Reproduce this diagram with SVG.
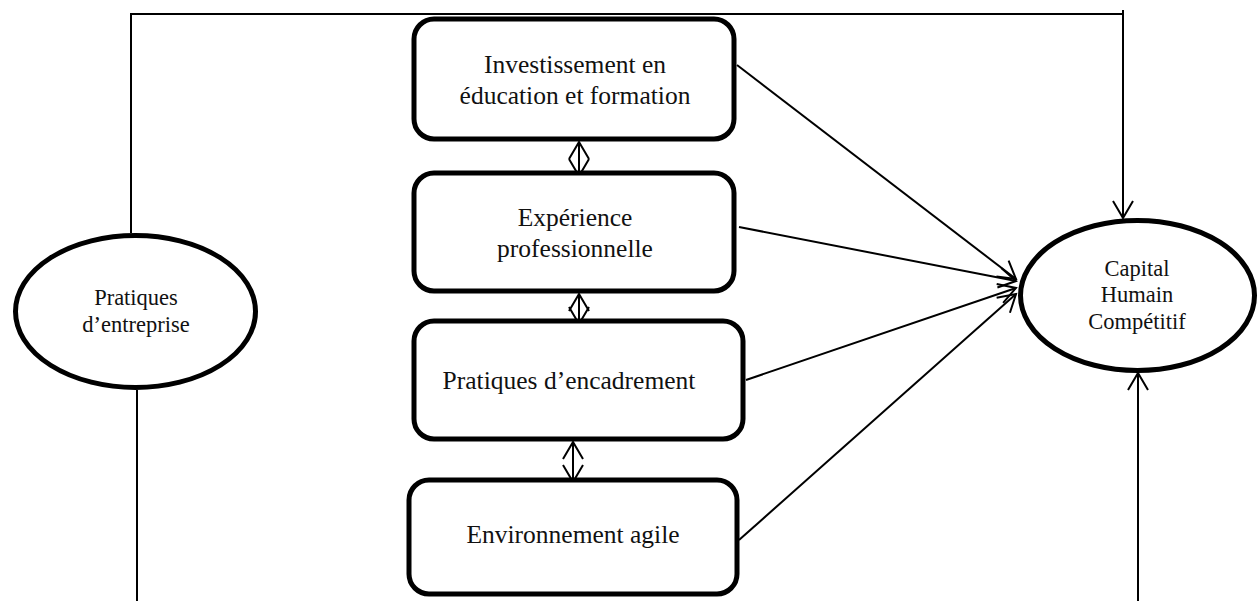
<svg xmlns="http://www.w3.org/2000/svg" width="1258" height="601" viewBox="0 0 1258 601">
<style>
.box{fill:#fff;stroke:#000;stroke-width:5}
.ell{fill:#fff;stroke:#000;stroke-width:5}
.t{font-family:"Liberation Serif","Times New Roman",serif;font-size:25.5px;fill:#111;text-anchor:middle}
.te{font-family:"Liberation Serif","Times New Roman",serif;font-size:22.5px;fill:#111;text-anchor:middle}
.c{fill:none;stroke:#000;stroke-width:2}
</style>
<defs>
<marker id="ah" markerUnits="userSpaceOnUse" markerWidth="40" markerHeight="40" viewBox="-20 -20 40 40" refX="0" refY="0" orient="auto-start-reverse">
<path d="M-17,-10 L0,0 L-17,10" fill="none" stroke="#000" stroke-width="2"/>
</marker>
</defs>
<g id="connectors">
<polyline class="c" points="131,233 131,14 1123,14"/>
<line class="c" x1="1123" y1="10" x2="1123" y2="218" marker-end="url(#ah)"/>
<line class="c" x1="137" y1="390" x2="137" y2="601"/>
<line class="c" x1="1138" y1="601" x2="1138" y2="373" marker-end="url(#ah)"/>
<line class="c" x1="737" y1="65" x2="1016" y2="279" marker-end="url(#ah)"/>
<line class="c" x1="739" y1="227" x2="1016" y2="281" marker-end="url(#ah)"/>
<line class="c" x1="746" y1="380" x2="1016" y2="288" marker-end="url(#ah)"/>
<line class="c" x1="739" y1="540" x2="1016" y2="294" marker-end="url(#ah)"/>
<line class="c" x1="579" y1="142" x2="579" y2="176" marker-start="url(#ah)" marker-end="url(#ah)"/>
<line class="c" x1="579" y1="294" x2="579" y2="324" marker-start="url(#ah)" marker-end="url(#ah)"/>
<line class="c" x1="573" y1="442" x2="573" y2="482" marker-start="url(#ah)" marker-end="url(#ah)"/>
</g>
<g id="pratiques-entreprise">
<ellipse class="ell" cx="135.5" cy="311.5" rx="120" ry="76"/>
<text class="te" x="136" y="305">Pratiques</text>
<text class="te" x="136" y="332">d’entreprise</text>
</g>
<g id="capital-humain">
<ellipse class="ell" cx="1137.5" cy="295.5" rx="117" ry="75"/>
<text class="te" x="1137" y="276">Capital</text>
<text class="te" x="1137" y="302">Humain</text>
<text class="te" x="1137" y="329">Compétitif</text>
</g>
<g id="investissement">
<rect class="box" x="414" y="19" width="320" height="120" rx="20"/>
<text class="t" x="575" y="73">Investissement en</text>
<text class="t" x="575" y="104">éducation et formation</text>
</g>
<g id="experience">
<rect class="box" x="414" y="173" width="320" height="118" rx="20"/>
<text class="t" x="575" y="226">Expérience</text>
<text class="t" x="575" y="257">professionnelle</text>
</g>
<g id="encadrement">
<rect class="box" x="414" y="321" width="329" height="118" rx="20"/>
<text class="t" x="569" y="389">Pratiques d’encadrement</text>
</g>
<g id="environnement">
<rect class="box" x="409" y="480" width="328" height="114" rx="20"/>
<text class="t" x="573" y="543">Environnement agile</text>
</g>
</svg>
